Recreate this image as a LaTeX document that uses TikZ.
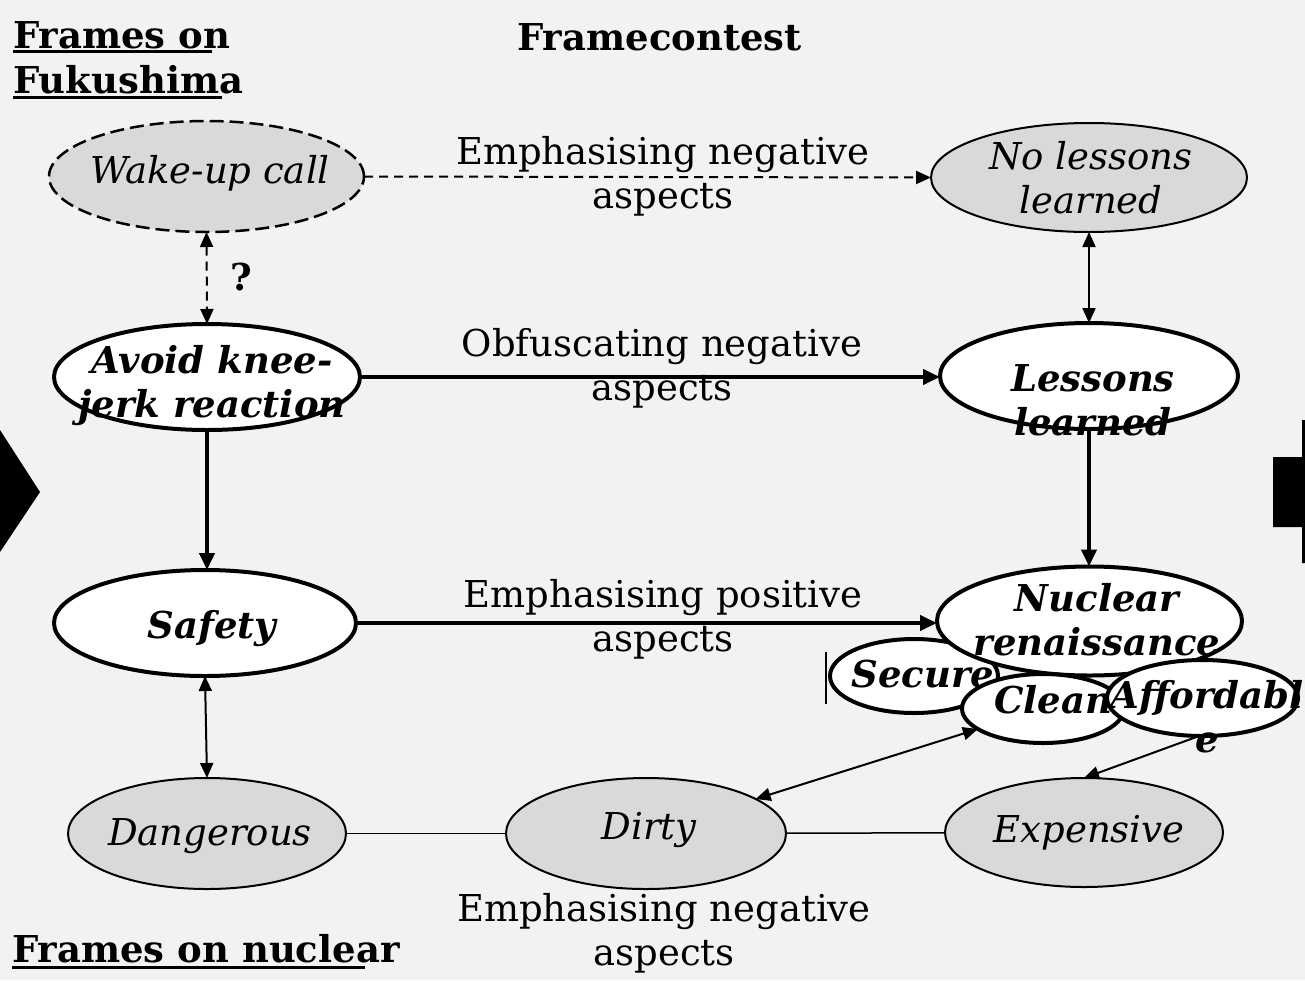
\documentclass[tikz,border=0pt]{standalone}
\usepackage{fontspec}
\setmainfont{DejaVu Serif}
\usetikzlibrary{shapes.geometric,arrows.meta}
\definecolor{bgc}{HTML}{F2F2F2}
\definecolor{gfill}{HTML}{D9D9D9}
\newcommand{\dfs}{\fontsize{37pt}{44pt}\selectfont}
\pgfdeclarelayer{back}
\pgfsetlayers{back,main}
\tikzset{
  ell/.style={ellipse, inner sep=0pt, outer sep=0pt},
  wnode/.style={ell, draw, line width=4pt, fill=white},
  gnode/.style={ell, draw, line width=2pt, fill=gfill},
  wtext/.style={font=\dfs\bfseries\itshape, align=center, inner sep=0pt},
  gtext/.style={font=\dfs\itshape, align=center, inner sep=0pt},
  lbl/.style={font=\dfs, align=center, inner sep=0pt},
  ttl/.style={font=\dfs\bfseries, inner sep=0pt, anchor=base west},
  thinarrow/.style={line width=2pt, -{Triangle[length=15pt,width=13pt]}},
  thinboth/.style={line width=2pt, {Triangle[length=15pt,width=13pt]}-{Triangle[length=15pt,width=13pt]}},
  thickarrow/.style={line width=4pt, -{Triangle[length=17pt,width=15pt]}},
  plainline/.style={line width=1.5pt},
  dashpat/.style={dash pattern=on 9pt off 6pt},
  elldash/.style={line width=2.5pt, dash pattern=on 14pt off 6pt},
  uline/.style={line width=3pt}
}
\begin{document}
\begin{tikzpicture}[x=1pt,y=-1pt]
\useasboundingbox (0,0) rectangle (1305,980);
\begin{pgfonlayer}{back}
\fill[bgc] (0,0) rectangle (1305,980);
\end{pgfonlayer}

% side markers
\fill[black] (0,430) -- (40,492) -- (0,552) -- cycle;
\fill[black] (1273,457) -- (1302,457) -- (1302,420) -- (1305,420) -- (1305,563) -- (1302,563) -- (1302,527) -- (1273,527) -- cycle;

% titles
\node[ttl] (t1) at (13,48) {Frames on};
\node[ttl] (t2) at (13,93) {Fukushima};
\draw[uline] (13,51.5) -- (212,51.5);
\draw[uline] (13,97.5) -- (222,97.5);
\node[ttl] (t3) at (517,50) {Framecontest};
\node[ttl] (t4) at (12,962) {Frames on nuclear};
\draw[uline] (12,967) -- (365,967);

% top row
\node[gnode, elldash, minimum width=315pt, minimum height=111pt] (wake) at (206.5,176.5) {};
\node[gtext] (wakeT) at (210,173) {Wake-up call};
\node[gnode, minimum width=316pt, minimum height=109pt] (nol) at (1089,177.5) {};
\node[gtext] (nolT) at (1091,177.5) {No lessons\\learned};

% middle row
\node[wnode, minimum width=306pt, minimum height=106pt] (avoid) at (207,377) {};
\node[wtext] (avoidT) at (212,386) {Avoid knee-\\jerk reaction};
\node[wnode, minimum width=298pt, minimum height=106pt] (less) at (1089,376) {};
\node[wtext] (lessT) at (1093,400) {Lessons\\learned};

% lower row
\node[wnode, minimum width=302pt, minimum height=106pt] (safety) at (205,623) {};
\node[wtext] (safetyT) at (212,629) {Safety};
\node[wnode, minimum width=168pt, minimum height=74pt] (secure) at (914,676) {};
\node[wtext] (secureT) at (923,674) {Secure};
\node[wnode, minimum width=305pt, minimum height=109pt] (nuc) at (1089.5,621) {};
\node[wtext] (nucT) at (1097,620) {Nuclear\\renaissance};
\node[wnode, minimum width=162pt, minimum height=69pt] (clean) at (1043,708.5) {};
\node[wtext] (cleanT) at (1053,700) {Clean};
\node[wnode, minimum width=191pt, minimum height=76pt] (afford) at (1202.5,698) {};
\node[wtext] (affordT) at (1207,717) {Affordabl\\e};
\draw[plainline] (826,652) -- (826,704);

% bottom row
\node[gnode, minimum width=278pt, minimum height=111pt] (dang) at (207,833.5) {};
\node[gtext] (dangT) at (210,836) {Dangerous};
\node[gnode, minimum width=280pt, minimum height=111pt] (dirty) at (646,833.5) {};
\node[gtext] (dirtyT) at (649,830) {Dirty};
\node[gnode, minimum width=278pt, minimum height=109pt] (exp) at (1084,832.5) {};
\node[gtext] (expT) at (1089,833) {Expensive};

% labels
\node[lbl] (l1) at (663,176) {Emphasising negative\\aspects};
\node[lbl] (l2) at (662,368) {Obfuscating negative\\aspects};
\node[lbl] (l3) at (663,619) {Emphasising positive\\aspects};
\node[lbl] (l4) at (664,933) {Emphasising negative\\aspects};
\node[font=\dfs\bfseries, inner sep=0pt, anchor=base] (q) at (241,290) {?};

% connectors
\begin{pgfonlayer}{back}
\draw[thinarrow, dashpat] (wake.east) -- (nol.west);
\draw[thinboth, dashpat] (wake.south) -- (avoid.north);
\draw[thinboth] (nol.south) -- (less.north);
\draw[thickarrow] (avoid.east) -- (less.west |- avoid.east);
\draw[thickarrow] (avoid.south) -- (safety.north -| avoid.south);
\draw[thickarrow] (less.south) -- (nuc.north -| less.south);
\draw[thickarrow] (safety.east) -- (nuc.west |- safety.east);
\draw[thinboth] (safety.south) -- (dang.north);
\draw[plainline] (dang) -- (dirty);
\draw[plainline] (dirty) -- (exp);
\draw[thinboth] (clean) -- (dirty);
\draw[thinarrow] (afford.-95) -- (exp.north);
\end{pgfonlayer}
\end{tikzpicture}
\end{document}
